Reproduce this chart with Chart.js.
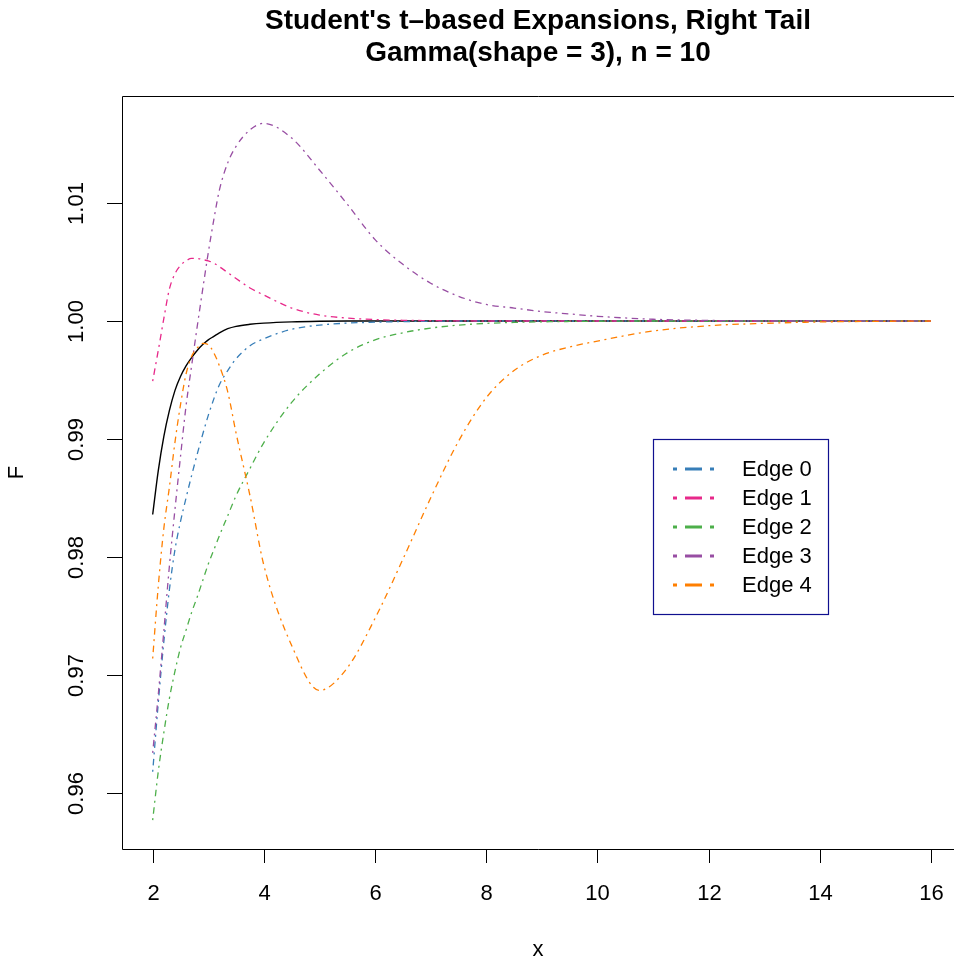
<!DOCTYPE html>
<html>
<head>
<meta charset="utf-8">
<script src="https://cdn.jsdelivr.net/npm/chart.js@4"></script>
<style>
  html, body { margin: 0; padding: 0; background: #fff; }
  #wrap { width: 954px; height: 964px; }
</style>
</head>
<body>
<div id="wrap"><canvas id="myChart" width="954" height="964"></canvas></div>
<script>
// values
const xValues = [2, 2.1, 2.2, 2.3, 2.4, 2.5, 2.6, 2.7, 2.8, 2.9, 3, 3.1, 3.2, 3.35, 3.5, 3.75, 4, 4.5, 5, 5.5, 6, 6.5, 7, 7.5, 8, 8.5, 9, 9.5, 10, 11, 12, 13, 14, 15, 16];
const trueF = [0.9836, 0.9873, 0.9902, 0.9924, 0.9941, 0.9953, 0.9962, 0.9969, 0.9975, 0.9980, 0.9984, 0.9987, 0.9990, 0.99935, 0.99955, 0.99972, 0.99982, 0.99993, 0.99998, 1, 1, 1, 1, 1, 1, 1, 1, 1, 1, 1, 1, 1, 1, 1, 1];
const edge0 = [0.9618, 0.9676, 0.9728, 0.9772, 0.9806, 0.9830, 0.9850, 0.9869, 0.9887, 0.9904, 0.9920, 0.9934, 0.9946, 0.9958, 0.9968, 0.9979, 0.9985, 0.9993, 0.99965, 0.99982, 0.9999, 0.99995, 0.99998, 1, 1, 1, 1, 1, 1, 1, 1, 1, 1, 1, 1];
const edge1 = [0.9949, 0.9975, 1.0002, 1.0027, 1.0040, 1.0047, 1.0051, 1.0053, 1.0053, 1.0052, 1.0051, 1.0049, 1.0046, 1.0041, 1.0036, 1.0028, 1.0022, 1.0011, 1.0005, 1.00025, 1.00012, 1.00006, 1.00003, 1.00001, 1, 1, 1, 1, 1, 1, 1, 1, 1, 1, 1];
const edge2 = [0.9577, 0.9618, 0.9651, 0.9680, 0.9703, 0.9723, 0.9738, 0.9753, 0.9766, 0.9780, 0.9794, 0.9806, 0.9818, 0.9835, 0.9852, 0.9875, 0.9897, 0.9931, 0.9955, 0.9973, 0.9984, 0.9990, 0.9994, 0.99965, 0.9998, 0.99988, 0.99993, 0.99996, 0.99998, 1, 1, 1, 1, 1, 1];
const edge3 = [0.9634, 0.9683, 0.9737, 0.9792, 0.9840, 0.9885, 0.9928, 0.9962, 0.9995, 1.0027, 1.0058, 1.0086, 1.0111, 1.0134, 1.0148, 1.0162, 1.01675, 1.0155, 1.0128, 1.0099, 1.0069, 1.0048, 1.0032, 1.0021, 1.0014, 1.0011, 1.0008, 1.0006, 1.0004, 1.00015, 1.00005, 1, 1, 1, 1];
const edge4 = [0.9714, 0.9775, 0.9824, 0.9859, 0.9897, 0.9929, 0.9955, 0.9970, 0.9977, 0.9981, 0.9980, 0.9973, 0.9962, 0.9940, 0.9905, 0.9852, 0.9793, 0.9725, 0.9687, 0.9706, 0.9748, 0.9798, 0.9850, 0.9898, 0.9935, 0.9958, 0.9971, 0.9978, 0.9983, 0.99915, 0.9996, 0.9998, 0.99992, 0.99997, 1];

const seriesNames = ['Edge 0', 'Edge 1', 'Edge 2', 'Edge 3', 'Edge 4'];
const seriesColors = ['#377EB8', '#E7298A', '#4DAF4A', '#984EA3', '#FF7F00'];
const xTicks = [2, 4, 6, 8, 10, 12, 14, 16];
const yTicks = [0.96, 0.97, 0.98, 0.99, 1.00, 1.01];
const titleLines = ["Student's t\u2013based Expansions, Right Tail", 'Gamma(shape = 3), n = 10'];

const FONT = "'Liberation Sans', Arial, Helvetica, sans-serif";
const dotdash = [2, 4.5, 6.5, 4.5];

function toPoints(ys) {
  return xValues.map((x, i) => ({ x: x, y: ys[i] }));
}

const edgeSeries = [edge0, edge1, edge2, edge3, edge4];
const datasets = [{
  label: 'F',
  data: toPoints(trueF),
  borderColor: '#000000',
  borderWidth: 1.4,
  pointRadius: 0,
  cubicInterpolationMode: 'monotone',
  order: 6
}];
edgeSeries.forEach((ys, i) => {
  datasets.push({
    label: seriesNames[i],
    data: toPoints(ys),
    borderColor: seriesColors[i],
    borderWidth: 1.3,
    borderDash: dotdash,
    pointRadius: 0,
    cubicInterpolationMode: 'monotone',
    order: 5 - i
  });
});

// frame, axes, titles and legend drawn in base-graphics style
const decorations = {
  id: 'decorations',
  afterDraw(chart) {
    const ctx = chart.ctx;
    const a = chart.chartArea;
    const xs = chart.scales.x, ys = chart.scales.y;
    ctx.save();
    ctx.strokeStyle = '#000';
    ctx.lineWidth = 1;
    ctx.beginPath();
    ctx.moveTo(a.right + 2, a.top + 0.5);
    ctx.lineTo(a.left + 0.5, a.top + 0.5);
    ctx.lineTo(a.left + 0.5, a.bottom + 0.5);
    ctx.lineTo(a.right + 2, a.bottom + 0.5);
    ctx.stroke();

    ctx.fillStyle = '#000';
    ctx.font = '22px ' + FONT;
    ctx.textAlign = 'center';
    ctx.textBaseline = 'middle';
    xTicks.forEach(v => {
      const px = Math.round(xs.getPixelForValue(v)) + 0.5;
      ctx.beginPath();
      ctx.moveTo(px, a.bottom);
      ctx.lineTo(px, a.bottom + 14);
      ctx.stroke();
      ctx.fillText(String(v), px, 894);
    });
    yTicks.forEach(v => {
      const py = Math.round(ys.getPixelForValue(v)) + 0.5;
      ctx.beginPath();
      ctx.moveTo(a.left, py);
      ctx.lineTo(a.left - 15, py);
      ctx.stroke();
      ctx.save();
      ctx.translate(77, py);
      ctx.rotate(-Math.PI / 2);
      ctx.fillText(v.toFixed(2), 0, 0);
      ctx.restore();
    });
    ctx.fillText('x', (a.left + a.right) / 2, 950);
    ctx.save();
    ctx.translate(17, (a.top + a.bottom) / 2);
    ctx.rotate(-Math.PI / 2);
    ctx.fillText('F', 0, 0);
    ctx.restore();

    ctx.font = 'bold 28px ' + FONT;
    ctx.fillText(titleLines[0], (a.left + a.right) / 2, 21);
    ctx.fillText(titleLines[1], (a.left + a.right) / 2, 53);

    // legend
    const lx = 653.5, ly = 439.5, lw = 175, lh = 175;
    ctx.fillStyle = '#fff';
    ctx.fillRect(lx, ly, lw, lh);
    ctx.strokeStyle = '#10108F';
    ctx.lineWidth = 1.2;
    ctx.strokeRect(lx, ly, lw, lh);
    ctx.font = '22px ' + FONT;
    ctx.textAlign = 'left';
    seriesNames.forEach((name, i) => {
      const ry = 469 + i * 29;
      ctx.strokeStyle = seriesColors[i];
      ctx.lineWidth = 3;
      ctx.setLineDash([4, 8, 17, 8]);
      ctx.beginPath();
      ctx.moveTo(673, ry);
      ctx.lineTo(715, ry);
      ctx.stroke();
      ctx.setLineDash([]);
      ctx.fillStyle = '#000';
      ctx.fillText(name, 742, ry + 1);
    });
    ctx.restore();
  }
};

const config = {
  type: 'line',
  data: { datasets: datasets },
  options: {
    responsive: false,
    animation: false,
    layout: { padding: { left: 122, top: 96, right: 0, bottom: 115 } },
    scales: {
      x: { type: 'linear', min: 1.448, max: 16.414, display: false },
      y: { type: 'linear', min: 0.955254, max: 1.019068, display: false }
    },
    plugins: {
      legend: { display: false },
      title: { display: false },
      tooltip: { enabled: false }
    }
  },
  plugins: [decorations]
};

const ctx = document.getElementById('myChart').getContext('2d');
const myChart = new Chart(ctx, config);
</script>
</body>
</html>
